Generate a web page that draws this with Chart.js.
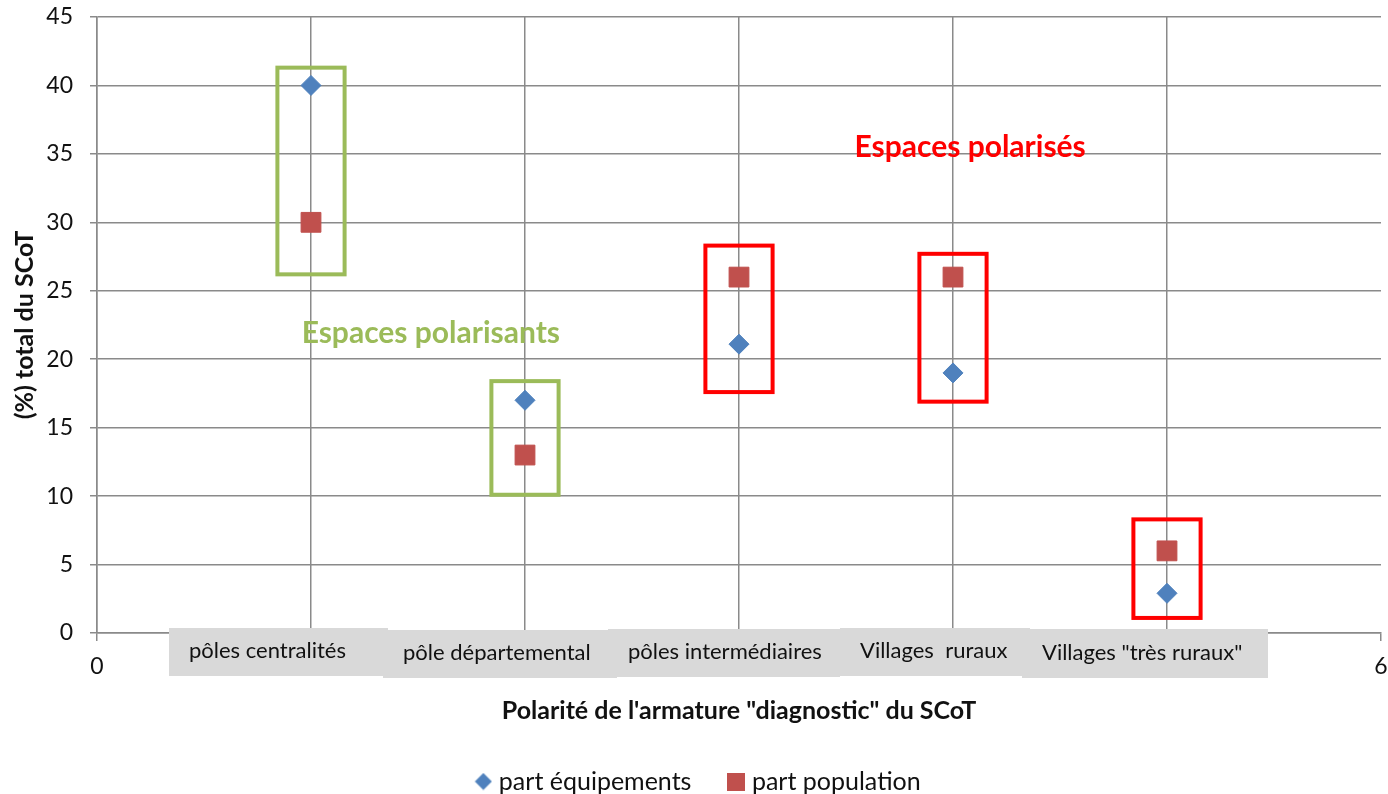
<!DOCTYPE html>
<html>
<head>
<meta charset="utf-8">
<script src="https://cdn.jsdelivr.net/npm/chart.js@4"></script>
<style>
  html, body { margin: 0; padding: 0; background: #fff; }
  #wrap { width: 1388px; height: 794px; }
</style>
</head>
<body>
<div id="wrap"><canvas id="chart" width="1388" height="794"></canvas></div>
<script>
// values
const categories = ["pôles centralités", "pôle départemental", "pôles intermédiaires", "Villages  ruraux", "Villages \"très ruraux\""];
const xPositions = [1, 2, 3, 4, 5];
const partEquipements = [40, 17, 21.1, 19, 2.9];
const partPopulation = [30, 13, 26, 26, 6];
const yTicks = [0, 5, 10, 15, 20, 25, 30, 35, 40, 45];

// framed groups (x, y from, y to) in data units
const groupBoxes = [
  { x: 1, y0: 26.2, y1: 41.3, group: "polarisants" },
  { x: 2, y0: 10.1, y1: 18.4, group: "polarisants" },
  { x: 3, y0: 17.6, y1: 28.3, group: "polarises" },
  { x: 4, y0: 16.9, y1: 27.7, group: "polarises" },
  { x: 5, y0: 1.1, y1: 8.3, group: "polarises" },
];
const groupLabels = [
  { text: "Espaces polarisants", x: 1.56, y: 21.9, group: "polarisants" },
  { text: "Espaces polarisés", x: 4.08, y: 35.5, group: "polarises" },
];

const FONT = "Lato, 'Open Sans', sans-serif";
const GRID = "#8a8a8a";
const BLUE = "#4f81bd";
const RED = "#c0504d";
const groupColor = { polarisants: "#9bbb59", polarises: "#ff0000" };

// category label boxes under the axis, pixel layout
const catBoxes = [
  { left: 169, right: 388, top: 628, bottom: 676 },
  { left: 383, right: 617, top: 630, bottom: 678 },
  { left: 608, right: 840, top: 629, bottom: 677 },
  { left: 840, right: 1030, top: 628, bottom: 676 },
  { left: 1022, right: 1268, top: 629, bottom: 678 },
];

// small legend markers
function marker(kind) {
  const c = document.createElement("canvas");
  c.width = 18; c.height = 18;
  const g = c.getContext("2d");
  g.fillStyle = kind === "diamond" ? BLUE : RED;
  if (kind === "diamond") {
    g.beginPath();
    g.moveTo(9, 0.5); g.lineTo(17.5, 9); g.lineTo(9, 17.5); g.lineTo(0.5, 9);
    g.closePath(); g.fill();
  } else {
    g.fillRect(0, 0, 18, 18);
  }
  return c;
}
const legendMarkers = [marker("diamond"), marker("square")];

const overlay = {
  id: "overlay",
  afterLayout(chart) {
    // legend sits a little right of centre in the original
    chart.legend.left += 10;
    chart.legend.right += 10;
  },
  afterDatasetsDraw(chart) {
    const { ctx, scales: { x, y } } = chart;
    ctx.save();
    ctx.lineWidth = 4;
    groupBoxes.forEach((b) => {
      const l = x.getPixelForValue(b.x - 0.157);
      const r = x.getPixelForValue(b.x + 0.157);
      const t = y.getPixelForValue(b.y1);
      const bt = y.getPixelForValue(b.y0);
      ctx.strokeStyle = groupColor[b.group];
      ctx.strokeRect(l, t, r - l, bt - t);
    });
    ctx.font = "bold 30px " + FONT;
    ctx.textAlign = "center";
    ctx.textBaseline = "middle";
    groupLabels.forEach((g) => {
      ctx.fillStyle = groupColor[g.group];
      ctx.fillText(g.text, x.getPixelForValue(g.x), y.getPixelForValue(g.y));
    });
    ctx.restore();
  },
  afterDraw(chart) {
    const { ctx } = chart;
    ctx.save();
    ctx.font = "22px " + FONT;
    ctx.textBaseline = "middle";
    ctx.textAlign = "left";
    catBoxes.forEach((b) => {
      ctx.fillStyle = "#d9d9d9";
      ctx.fillRect(b.left, b.top, b.right - b.left, b.bottom - b.top);
    });
    catBoxes.forEach((b, i) => {
      ctx.fillStyle = "#111";
      ctx.fillText(categories[i], b.left + 20, (b.top + b.bottom) / 2 - 1);
    });
    ctx.restore();
  },
};

new Chart(document.getElementById("chart"), {
  type: "scatter",
  data: {
    datasets: [
      {
        label: "part équipements",
        data: xPositions.map((v, i) => ({ x: v, y: partEquipements[i] })),
        pointStyle: "rectRot",
        pointRadius: 10,
        pointHoverRadius: 10,
        backgroundColor: BLUE,
        borderColor: BLUE,
        borderWidth: 1,
      },
      {
        label: "part population",
        data: xPositions.map((v, i) => ({ x: v, y: partPopulation[i] })),
        pointStyle: "rect",
        pointRadius: 14,
        pointHoverRadius: 14,
        backgroundColor: RED,
        borderColor: RED,
        borderWidth: 1,
      },
    ],
  },
  options: {
    responsive: false,
    animation: false,
    layout: { autoPadding: false, padding: { top: 17, right: 7, left: 0, bottom: -10 } },
    plugins: {
      tooltip: { enabled: false },
      legend: {
        position: "bottom",
        labels: {
          usePointStyle: true,
          pointStyleWidth: 6,
          padding: 42,
          color: "#111",
          font: { family: FONT, size: 25 },
          generateLabels(chart) {
            const items = Chart.defaults.plugins.legend.labels.generateLabels(chart);
            items.forEach((it, i) => { it.pointStyle = legendMarkers[i]; });
            return items;
          },
        },
      },
    },
    scales: {
      x: {
        type: "linear",
        min: 0,
        max: 6,
        afterFit: (s) => { s.height = 94; s.paddingLeft = 0; s.paddingRight = 0; },
        afterBuildTicks: (s) => { s.ticks = [0, 1, 2, 3, 4, 5, 6].map((v) => ({ value: v })); },
        ticks: {
          padding: 12,
          color: "#111",
          font: { family: FONT, size: 23 },
          callback: (v) => (v === 0 || v === 6 ? String(v) : ""),
        },
        grid: {
          color: (c) => (c.tick && c.tick.value === 6 ? "rgba(0,0,0,0)" : GRID),
          tickColor: GRID,
          lineWidth: 1.5,
          tickLength: 8,
        },
        border: { color: GRID, width: 1.5 },
        title: {
          display: true,
          text: "Polarité de l'armature \"diagnostic\" du SCoT",
          color: "#111",
          font: { family: FONT, size: 25, weight: "bold" },
          padding: { top: 4, bottom: 1 },
        },
      },
      y: {
        min: 0,
        max: 45,
        afterFit: (s) => { s.width = 97; s.paddingTop = 0; s.paddingBottom = 0; },
        afterBuildTicks: (s) => { s.ticks = yTicks.map((v) => ({ value: v })); },
        ticks: {
          padding: 17,
          color: "#111",
          font: { family: FONT, size: 23 },
        },
        grid: { color: GRID, lineWidth: 1.5, tickLength: 7 },
        border: { color: GRID, width: 1.5 },
        title: {
          display: true,
          text: "(%) total du SCoT",
          color: "#111",
          font: { family: FONT, size: 25, weight: "bold" },
          padding: { top: 10, bottom: 0 },
        },
      },
    },
  },
  plugins: [overlay],
});
</script>
</body>
</html>
